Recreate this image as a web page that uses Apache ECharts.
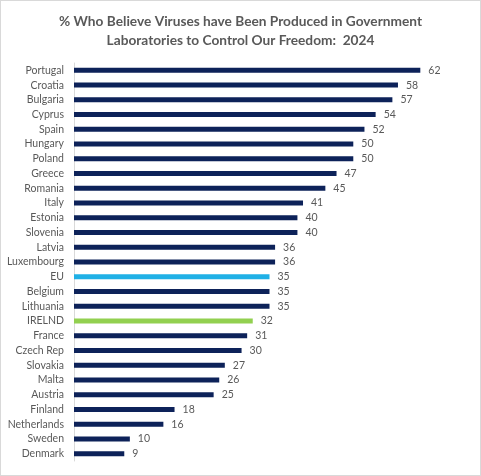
<!DOCTYPE html>
<html><head><meta charset="utf-8">
<script src="https://cdn.jsdelivr.net/npm/echarts@6/dist/echarts.min.js"></script>
<style>html,body{margin:0;padding:0;background:#fff}#c{width:481px;height:476px;box-sizing:border-box;border:1px solid #d9d9d9}</style>
</head><body><div id="c"></div>
<script>
const categories = ["Portugal","Croatia","Bulgaria","Cyprus","Spain","Hungary","Poland","Greece","Romania","Italy","Estonia","Slovenia","Latvia","Luxembourg","EU","Belgium","Lithuania","IRELND","France","Czech Rep","Slovakia","Malta","Austria","Finland","Netherlands","Sweden","Denmark"];
const values = [62,58,57,54,52,50,50,47,45,41,40,40,36,36,35,35,35,32,31,30,27,26,25,18,16,10,9];
const highlight = {"EU":"#1fb0e6","IRELND":"#92d050"};
const baseColor = "#0d2259";
const chart = echarts.init(document.getElementById('c'), null, {renderer:'canvas'});
chart.setOption({
  animation:false,
  title:{
    text:"% Who Believe Viruses have Been Produced in Government\nLaboratories to Control Our Freedom:  2024",
    left:'center', top:6,
    textStyle:{fontFamily:'Lato',fontSize:13.7,fontWeight:'bold',color:'#595959',lineHeight:19}
  },
  grid:{left:73,right:15,top:62,bottom:14,containLabel:false},
  xAxis:{type:'value',min:0,max:70,show:false},
  yAxis:{type:'category',data:categories,inverse:true,
    axisLine:{show:true,lineStyle:{color:'#d9d9d9',width:1}},
    axisTick:{show:false},
    axisLabel:{margin:10,fontFamily:'Lato',fontSize:10.5,color:'#595959'}
  },
  series:[{type:'bar',barWidth:5,
    data:values.map((v,i)=>({value:v,itemStyle:{color:highlight[categories[i]]||baseColor}})),
    label:{show:true,position:'right',distance:8,fontFamily:'Lato',fontSize:10.5,color:'#595959'}
  }]
});
</script></body></html>
